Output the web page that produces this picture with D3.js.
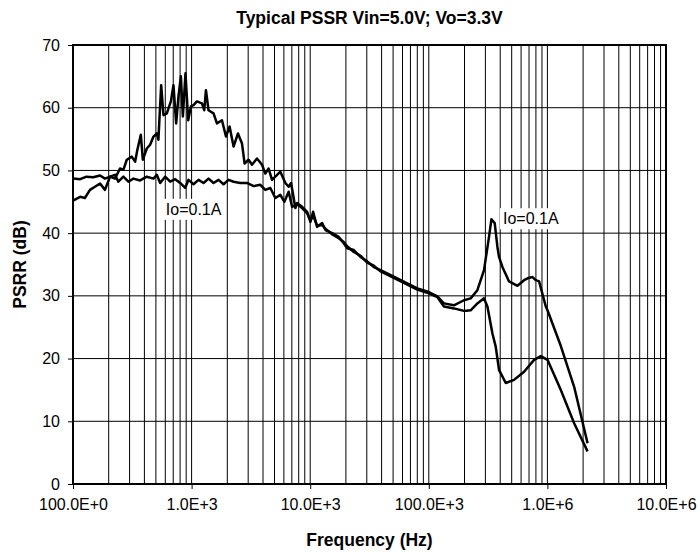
<!DOCTYPE html>
<html><head><meta charset="utf-8">
<script src="https://cdn.jsdelivr.net/npm/d3@7/dist/d3.min.js"></script>
<style>
html,body{margin:0;padding:0;background:#fff;}
svg text{font-family:"Liberation Sans",Arial,sans-serif;fill:#000;}
</style></head>
<body><svg id="chart" width="700" height="553"></svg>
<script>
const titleText = "Typical PSSR Vin=5.0V; Vo=3.3V";
const xAxisTitle = "Frequency (Hz)";
const yAxisTitle = "PSRR (dB)";
const xTickValues = [1e2, 1e3, 1e4, 1e5, 1e6, 1e7];
const xTickLabels = ["100.0E+0", "1.0E+3", "10.0E+3", "100.0E+3", "1.0E+6", "10.0E+6"];
const yTickValues = [0, 10, 20, 30, 40, 50, 60, 70];

const freq1 = [100,115,126,139,153,169,186,205,226,249,266,284,313,334,349,373,388,419,447,477,509,525,554,579,618,669,703,741,775,812,844,888,936,987,1038,1109,1222,1278,1321,1389,1531,1636,1803,1949,2090,2259,2460,2660,2798,3024,3230,3560,3925,4184,4461,4767,5603,6174,6583,6898,7499,7751,8543,9415,10040,10580,11440,12610,13440,15310,17410,19180,20500,23310,26550,30240,34390,39160,44610,54200,65820,79970,97120,118000,134100,162900,197900,225400,256800,292100,321900,337200,359500,378900,390900,417500,474900,559200,635700,679200,748600,798000,851000,969400,1002000,1298000,1681000,2181000];
const psrr1 = [45.2,45.8,45.6,46.9,47.4,47.9,46.9,49.0,48.7,50.3,50.1,51.7,52.2,51.4,53.3,55.7,51.7,53.5,54.1,55.4,55.9,54.9,63.6,58.8,59.1,61.0,63.6,57.5,61.8,65.0,58.6,65.5,58.0,60.2,60.4,61.0,60.7,59.6,62.8,59.6,59.1,57.5,58.0,55.4,57.0,53.8,55.9,54.3,51.1,51.7,50.9,51.9,50.9,49.5,50.3,48.5,49.8,48.0,47.4,48.0,44.0,44.8,44.2,43.4,41.8,43.4,41.0,41.6,40.5,40.0,39.4,38.4,37.6,37.3,36.2,35.5,34.6,34.1,33.6,32.8,32.0,31.2,30.7,29.9,28.8,28.5,29.3,29.6,30.9,34.1,39.4,42.2,41.6,37.8,36.2,34.6,32.3,31.6,32.5,32.8,33.0,32.5,32.3,28.3,27.7,22.0,15.5,6.5];

const freq2 = [100,115,130,148,169,186,205,226,241,266,293,323,368,419,477,509,543,598,660,727,801,883,941,1038,1144,1261,1389,1531,1687,1859,2050,2259,2573,2932,3333,3797,4184,4613,5084,5603,6056,6583,7034,7751,8543,9415,10040,10580,11440,12610,13440,15310,17410,19180,20500,23310,26550,30240,34390,39160,44610,54200,65820,79970,97120,118000,134100,162900,197900,225400,256800,292100,312000,343900,366600,390900,445400,523400,635700,772300,879600,1002000,1298000,1681000,2181000];
const psrr2 = [48.7,48.6,49.0,48.9,49.2,48.7,49.0,49.3,48.2,49.0,48.2,48.7,48.4,49.0,48.7,49.3,48.0,49.0,48.2,48.6,48.0,47.2,48.5,47.8,48.5,48.0,48.7,48.0,48.5,47.8,48.5,48.2,48.0,48.0,47.5,47.7,46.9,47.2,45.6,46.1,45.0,46.6,44.2,44.6,44.0,43.2,42.0,42.8,41.2,41.3,40.7,39.8,39.2,38.6,37.9,37.0,36.4,35.3,34.8,33.9,33.4,32.6,31.8,31.0,30.5,29.8,28.3,28.0,27.6,27.7,28.8,29.6,28.3,24.0,21.9,18.2,16.1,16.6,17.9,19.8,20.4,19.8,15.0,9.7,5.2];

const annotations = [
  {text: "Io=0.1A", f: 1040, db: 43.8},
  {text: "Io=0.1A", f: 724000, db: 42.3}
];

const svg = d3.select("#chart");
const mLeft = 73, mRight = 666, mTop = 45, mBottom = 484;
const x = d3.scaleLog().domain([1e2, 1e7]).range([mLeft, mRight]);
const y = d3.scaleLinear().domain([0, 70]).range([mBottom, mTop]);

// grid
const minor = [];
for (let d = 1e2; d < 1e7; d *= 10) for (let k = 1; k <= 9; k++) if (!(k === 1 && d === 1e2)) minor.push(d * k);
svg.append("g").selectAll("line").data(minor).join("line")
  .attr("x1", d => x(d)).attr("x2", d => x(d)).attr("y1", mTop).attr("y2", mBottom)
  .attr("stroke", "#000").attr("stroke-width", 1);
svg.append("g").selectAll("line").data(yTickValues.slice(1, -1)).join("line")
  .attr("x1", mLeft).attr("x2", mRight).attr("y1", d => y(d)).attr("y2", d => y(d))
  .attr("stroke", "#000").attr("stroke-width", 1);

// axes
const xAxis = d3.axisBottom(x).tickValues(xTickValues).tickFormat((d, i) => xTickLabels[i]).tickSize(5).tickSizeOuter(0).tickPadding(10);
const gx = svg.append("g").attr("transform", `translate(0,${mBottom})`).call(xAxis);
gx.select(".domain").remove();
gx.selectAll("line").attr("stroke", "#000");
gx.selectAll("text").attr("font-size", 16).attr("fill", "#000").attr("font-family", "Liberation Sans, Arial, sans-serif");

const yAxis = d3.axisLeft(y).tickValues(yTickValues).tickSize(5).tickSizeOuter(0).tickPadding(8);
const gy = svg.append("g").attr("transform", `translate(${mLeft},0)`).call(yAxis);
gy.select(".domain").remove();
gy.selectAll("line").attr("stroke", "#000");
gy.selectAll("text").attr("font-size", 16).attr("fill", "#000").attr("font-family", "Liberation Sans, Arial, sans-serif");

// lines
const line = d3.line().x(d => x(d[0])).y(d => y(d[1]));
[[freq1, psrr1], [freq2, psrr2]].forEach(([f, p]) => {
  svg.append("path").datum(f.map((v, i) => [v, p[i]]))
    .attr("d", line).attr("fill", "none").attr("stroke", "#000")
    .attr("stroke-width", 2.5).attr("stroke-linejoin", "round");
});

// annotations
annotations.forEach(a => {
  const g = svg.append("g");
  const r = g.append("rect").attr("fill", "#fff");
  const t = g.append("text").attr("x", x(a.f)).attr("y", y(a.db))
    .attr("text-anchor", "middle").attr("dominant-baseline", "central")
    .attr("font-size", 16).text(a.text);
  const b = t.node().getBBox();
  r.attr("x", b.x - 3).attr("y", b.y - 2).attr("width", b.width + 6).attr("height", b.height + 4);
});

// border
svg.append("rect").attr("x", mLeft).attr("y", mTop).attr("width", mRight - mLeft).attr("height", mBottom - mTop)
  .attr("fill", "none").attr("stroke", "#000").attr("stroke-width", 2);

// titles
svg.append("text").attr("x", (mLeft + mRight) / 2).attr("y", 24).attr("text-anchor", "middle")
  .attr("font-size", 17.5).attr("font-weight", "bold").text(titleText);
svg.append("text").attr("x", (mLeft + mRight) / 2).attr("y", 546).attr("text-anchor", "middle")
  .attr("font-size", 17.5).attr("font-weight", "bold").text(xAxisTitle);
svg.append("text").attr("transform", `translate(26,${(mTop + mBottom) / 2}) rotate(-90)`).attr("text-anchor", "middle")
  .attr("font-size", 17.5).attr("font-weight", "bold").text(yAxisTitle);
</script></body></html>
